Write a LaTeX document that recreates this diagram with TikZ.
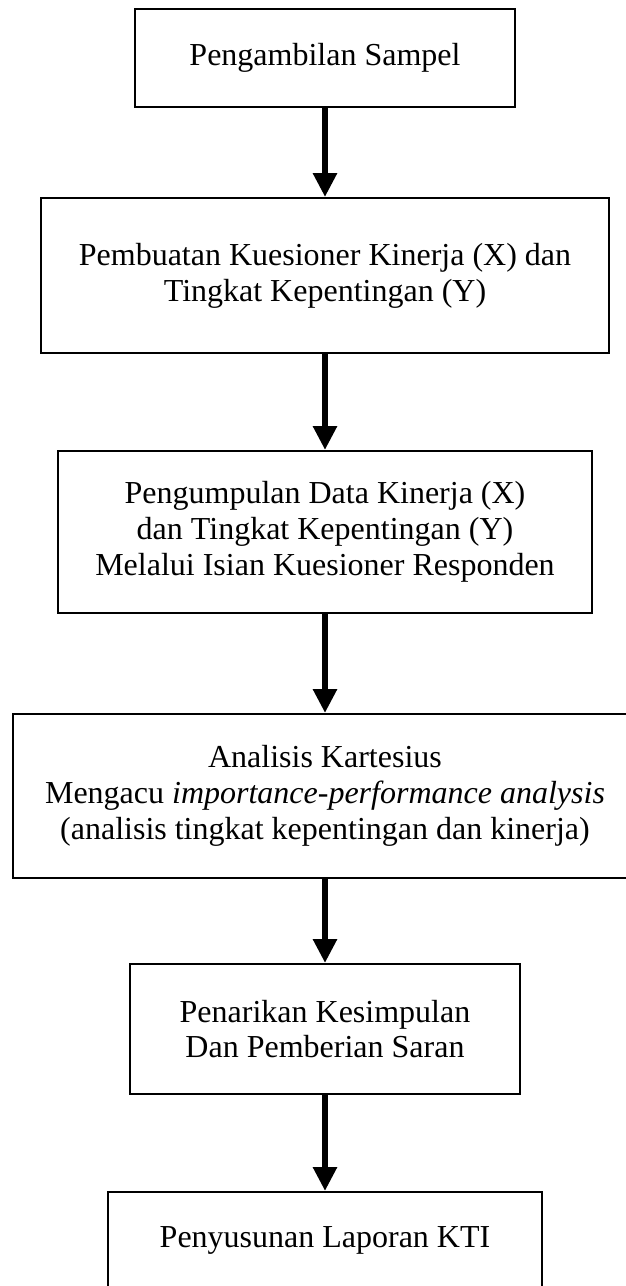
\documentclass[tikz,border=0pt]{standalone}
\usepackage{fontspec}
\setmainfont{Liberation Serif}
\usetikzlibrary{arrows.meta}

\begin{document}
\begin{tikzpicture}[
        x=.375pt, y=-.375pt,
        stage/.style={draw, line width=.75pt, inner sep=0pt, align=center,
            font=\fontsize{12}{13.4}\selectfont},
        flow/.style={line width=2.6pt, -{Triangle[width=8.6pt, length=9pt]}},
    ]
    \useasboundingbox (0, 0) rectangle (626, 1286);

    %% the steps of the study, top to bottom
    \node[stage, minimum width=142.5pt, minimum height=36.75pt] (sampel) at (325, 58)
        {Pengambilan Sampel};
    \node[stage, minimum width=213pt, minimum height=58.1pt] (kuesioner) at (325, 275.5)
        {Pembuatan Kuesioner Kinerja (X) dan\\Tingkat Kepentingan (Y)};
    \node[stage, minimum width=200.6pt, minimum height=60.75pt] (data) at (325, 532)
        {Pengumpulan Data Kinerja (X)\\dan Tingkat Kepentingan (Y)\\Melalui Isian Kuesioner Responden};
    \node[stage, minimum width=234pt, minimum height=61.5pt] (analisis) at (325, 796)
        {Analisis Kartesius\\Mengacu \textit{importance-performance analysis}\\(analisis tingkat kepentingan dan kinerja)};
    \node[stage, minimum width=146.6pt, minimum height=48.75pt] (simpulan) at (325, 1029)
        {Penarikan Kesimpulan\\Dan Pemberian Saran};
    \node[stage, minimum width=162.75pt, minimum height=36pt] (laporan) at (325, 1240)
        {Penyusunan Laporan KTI};

    %% one thick arrow between each pair of steps
    \foreach \a/\b in {sampel/kuesioner, kuesioner/data, data/analisis,
            analisis/simpulan, simpulan/laporan}{
        \draw[flow] (\a) -- (\b);
    }
\end{tikzpicture}
\end{document}
